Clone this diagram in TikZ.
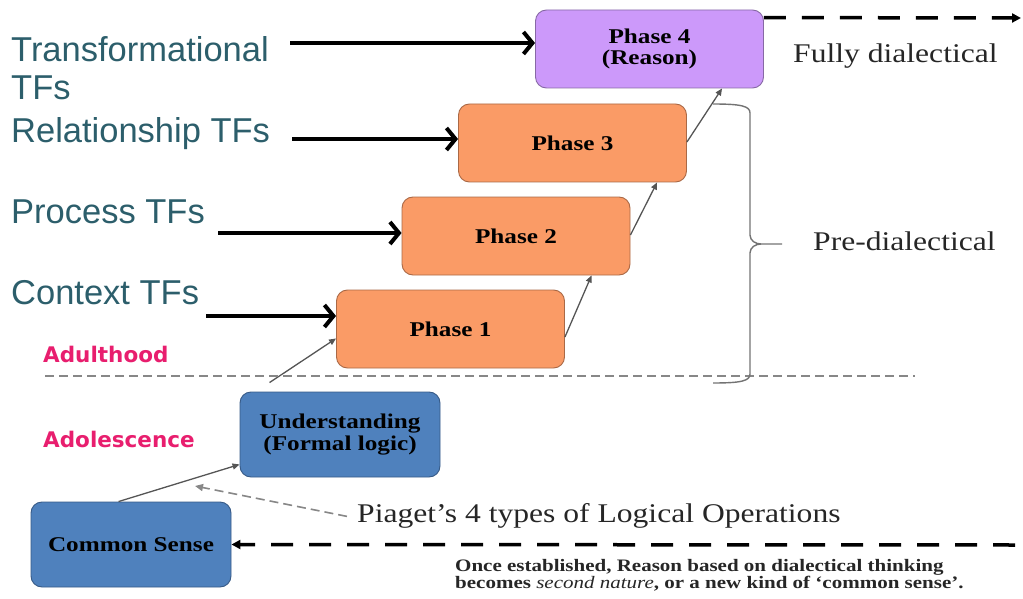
\documentclass[tikz,border=0pt]{standalone}
\usepackage{graphicx}
\usepackage{fontspec}
\setmainfont{Liberation Serif}
\newfontfamily\arialf{Liberation Sans}
\newfontfamily\dejaf{DejaVu Sans}
\usetikzlibrary{arrows.meta,calc}
\definecolor{orangefill}{RGB}{250,155,102}
\definecolor{orangedraw}{RGB}{170,105,70}
\definecolor{lavfill}{RGB}{204,153,250}
\definecolor{lavdraw}{RGB}{135,105,165}
\definecolor{bluefill}{RGB}{79,129,189}
\definecolor{bluedraw}{RGB}{55,90,135}
\definecolor{tealtext}{RGB}{44,94,107}
\definecolor{pinktext}{RGB}{232,30,110}
\definecolor{linkgray}{RGB}{85,85,85}
\definecolor{dashgray}{RGB}{135,135,135}
\newcommand{\sx}[1]{\scalebox{1.2}[1]{#1}}
\newcommand{\sy}[1]{\scalebox{1.17}[1]{#1}}
\begin{document}
\begin{tikzpicture}[x=1pt,y=-1pt,
  box/.style={rectangle, rounded corners=11pt, minimum width=228pt, minimum height=78pt,
    inner sep=0pt, line width=0.9pt, text=black, align=center,
    font=\fontsize{21}{21.5}\selectfont\bfseries},
  phasebox/.style={box, fill=orangefill, draw=orangedraw},
  reasonbox/.style={box, fill=lavfill, draw=lavdraw},
  bluebox/.style={box, fill=bluefill, draw=bluedraw, minimum width=200pt, minimum height=85pt},
  tflabel/.style={anchor=base west, inner sep=0pt, text=tealtext, font=\arialf\fontsize{34.5}{36}\selectfont},
  agelabel/.style={anchor=base west, inner sep=0pt, text=pinktext, font=\dejaf\bfseries\fontsize{21.5}{22}\selectfont},
  serifnote/.style={anchor=base west, inner sep=0pt, text=black!85, font=\fontsize{27}{28}\selectfont},
  smallnote/.style={anchor=base west, inner sep=0pt, text=black!85, font=\fontsize{17.5}{17}\selectfont\bfseries},
  bigarrow/.style={line width=4pt, -{Straight Barb[length=9pt,width=22pt,line width=4pt]}},
  linkarrow/.style={line width=1.3pt, draw=linkgray, -{Triangle[length=7pt,width=6pt]}},
  bigdash/.style={line width=3.5pt, dash pattern=on 22pt off 16pt, -{Triangle[length=9pt,width=9pt]}},
  graydash/.style={line width=1.6pt, draw=dashgray, dash pattern=on 9pt off 5pt},
  bracestyle/.style={line width=1.4pt, draw=black!55}
]
\useasboundingbox (0,0) rectangle (1023,599);

% boxes
\node[reasonbox] (P4) at (649.5,49) {\sx{Phase 4}\\\sx{(Reason)}};
\node[phasebox] (P3) at (572.5,143) {\sx{Phase 3}};
\node[phasebox] (P2) at (516,236) {\sx{Phase 2}};
\node[phasebox] (P1) at (450.5,329) {\sx{Phase 1}};
\node[bluebox] (U) at (340,434.5) {\sx{Understanding}\\\sx{(Formal logic)}};
\node[bluebox] (CS) at (131,544.5) {\sx{Common Sense}};

% left labels
\node[tflabel] (tTa) at (11,62) {Transformational};
\node[tflabel] (tTb) at (11,100) {TFs};
\node[tflabel] (tR) at (11,143) {Relationship TFs};
\node[tflabel] (tP) at (11,223) {Process TFs};
\node[tflabel] (tC) at (11,304) {Context TFs};

\node[agelabel] (adult) at (43,362) {Adulthood};
\node[agelabel] (adol) at (43,447) {Adolescence};

% right labels
\node[serifnote] (fully) at (793,63) {\sy{Fully dialectical}};
\node[serifnote] (pre) at (813,250) {\sy{Pre-dialectical}};
\node[serifnote] (pg) at (357,522) {\sy{Piaget’s 4 types of Logical Operations}};
\node[smallnote] (n1) at (455,571) {\sx{Once established, Reason based on dialectical thinking}};
\node[smallnote] (n2) at (455,588) {\sx{becomes \textmd{\itshape second nature}, or a new kind of ‘common sense’.}};

% thick arrows from labels
\coordinate (a4) at (290,43);
\coordinate (a3) at (292,139);
\coordinate (a2) at (218,233);
\coordinate (a1) at (206,316);
\draw[bigarrow] (a4) -- (a4 -| P4.west);
\draw[bigarrow] (a3) -- (a3 -| P3.west);
\draw[bigarrow] (a2) -- (a2 -| P2.west);
\draw[bigarrow] (a1) -- (a1 -| P1.west);

% progression links
\draw[linkarrow] ($(CS.north west)+(88,0)$) -- ($(U.south west)+(0,-13)$);
\draw[linkarrow] ($(U.north west)+(30,-9)$) -- ($(P1.south west)+(0,-30)$);
\draw[linkarrow] ($(P1.east)+(0,8)$) -- ($(P2.south west)+(190,0)$);
\draw[linkarrow] ($(P2.east)+(0,-1)$) -- ($(P3.south west)+(199,0)$);
\draw[linkarrow] ($(P3.east)+(0,-1)$) -- ($(P4.south west)+(187,0)$);

% adulthood divider
\coordinate (d1) at (45,376);
\coordinate (d2) at (915,376);
\draw[graydash] (d1) -- (d2);

% brace
\coordinate (br1) at (713,104);
\coordinate (br2) at (713,383);
\coordinate (brtip) at (782,244);
\draw[bracestyle] (br1) .. controls +(28,0) and +(0,-7) .. (750,113) -- (750,235)
  .. controls +(0,6) and +(-5,0) .. (761,244) -- (brtip);
\draw[bracestyle] (761,244) .. controls +(-5,0) and +(0,-6) .. (750,253) -- (750,374)
  .. controls +(0,7) and +(28,0) .. (br2);

% Piaget pointer
\coordinate (pgtip) at (195,486);
\draw[graydash, -{Triangle[length=8pt,width=7pt]}, draw=dashgray] ($(pg.west)+(-10,1)$) -- (pgtip);

% dashed long arrows
\coordinate (e1) at (1021,18);
\coordinate (e2) at (1015,545);
\draw[bigdash] ($(P4.north east)+(0,8)$) -- (e1);
\draw[bigdash] (e2) -- (CS.east);
\end{tikzpicture}
\end{document}
